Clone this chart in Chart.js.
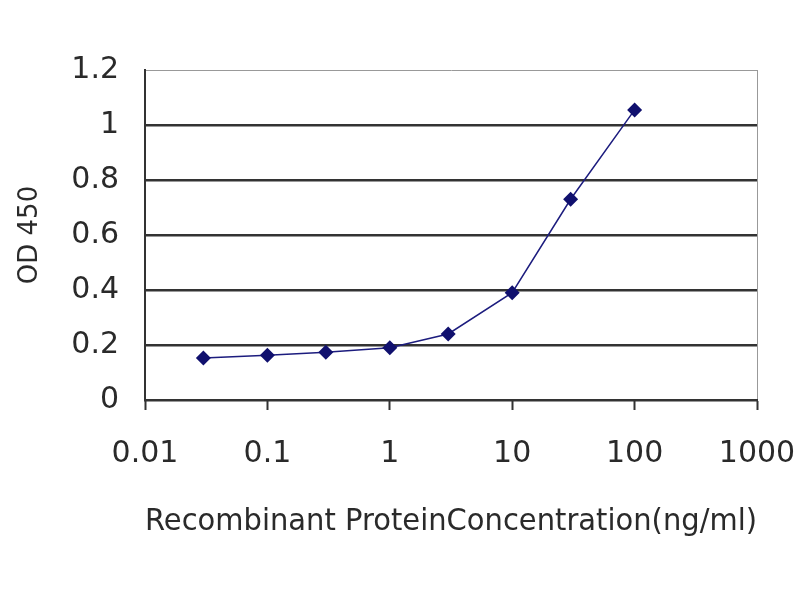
<!DOCTYPE html>
<html>
<head>
<meta charset="utf-8">
<script src="https://cdn.jsdelivr.net/npm/chart.js@4"></script>
<style>
  html, body { margin: 0; padding: 0; background: #fff; }
  #wrap { width: 800px; height: 600px; }
</style>
</head>
<body>
<div id="wrap"><canvas id="odChart"></canvas></div>
<script>
// concentration (ng/ml) and OD 450
const concentrations = [0.03, 0.1, 0.3, 1, 3, 10, 30, 100];
const odValues = [0.153, 0.163, 0.174, 0.19, 0.24, 0.39, 0.73, 1.055];
const xTicks = [0.01, 0.1, 1, 10, 100, 1000];
const xTickLabels = ['0.01', '0.1', '1', '10', '100', '1000'];

const textColor = '#2a2a2a';
const gridDark = '#333';
const fontFam = "'DejaVu Sans', sans-serif";

const points = concentrations.map((c, i) => ({x: c, y: odValues[i]}));

const ctx = document.getElementById('odChart');

new Chart(ctx, {
    type: 'scatter',
    data: {
        datasets: [{
            data: points,
            showLine: true,
            borderColor: '#1c1c7e',
            borderWidth: 1.5,
            backgroundColor: '#10106e',
            pointStyle: 'rectRot',
            pointRadius: 7.5,
            pointBorderWidth: 0,
            tension: 0
        }]
    },
    options: {
        responsive: true,
        maintainAspectRatio: false,
        animation: false,
        layout: {padding: {top: 70, right: 43, left: 0, bottom: 0}},
        plugins: {legend: {display: false}, tooltip: {enabled: false}},
        scales: {
            x: {
                type: 'logarithmic',
                min: 0.01,
                max: 1000,
                afterBuildTicks: (axis) => {
                    axis.ticks = xTicks.map(v => ({value: v}));
                },
                afterFit: (axis) => {
                    axis.height = 200;
                    axis.paddingLeft = 0;
                    axis.paddingRight = 0;
                },
                ticks: {
                    autoSkip: false,
                    maxRotation: 0,
                    padding: 26,
                    color: textColor,
                    font: {family: fontFam, size: 30},
                    callback: (v) => {
                        const i = xTicks.indexOf(v);
                        return i >= 0 ? xTickLabels[i] : '';
                    }
                },
                grid: {
                    drawOnChartArea: true,
                    color: (c) => (c.tick && c.tick.value === 1000) ? '#999' : 'rgba(0,0,0,0)',
                    lineWidth: 1,
                    tickColor: gridDark,
                    tickLength: 10,
                    tickWidth: 2
                },
                border: {color: gridDark, width: 2},
                title: {
                    display: true,
                    text: 'Recombinant ProteinConcentration(ng/ml)',
                    color: textColor,
                    font: {family: fontFam, size: 31},
                    padding: {top: 0, bottom: 59}
                }
            },
            y: {
                min: 0,
                max: 1.2,
                afterFit: (axis) => { axis.width = 145; },
                ticks: {
                    stepSize: 0.2,
                    padding: 26,
                    color: textColor,
                    font: {family: fontFam, size: 30},
                    callback: (v) => Number(v.toFixed(1)).toString()
                },
                grid: {
                    drawTicks: false,
                    color: (c) => (c.tick && Math.abs(c.tick.value - 1.2) < 1e-6) ? '#999' : gridDark,
                    lineWidth: (c) => (c.tick && Math.abs(c.tick.value - 1.2) < 1e-6) ? 1 : 2.5
                },
                border: {color: gridDark, width: 2},
                title: {
                    display: true,
                    text: 'OD 450',
                    color: textColor,
                    font: {family: fontFam, size: 26},
                    padding: {top: 15, bottom: 0}
                }
            }
        }
    }
});
</script>
</body>
</html>
